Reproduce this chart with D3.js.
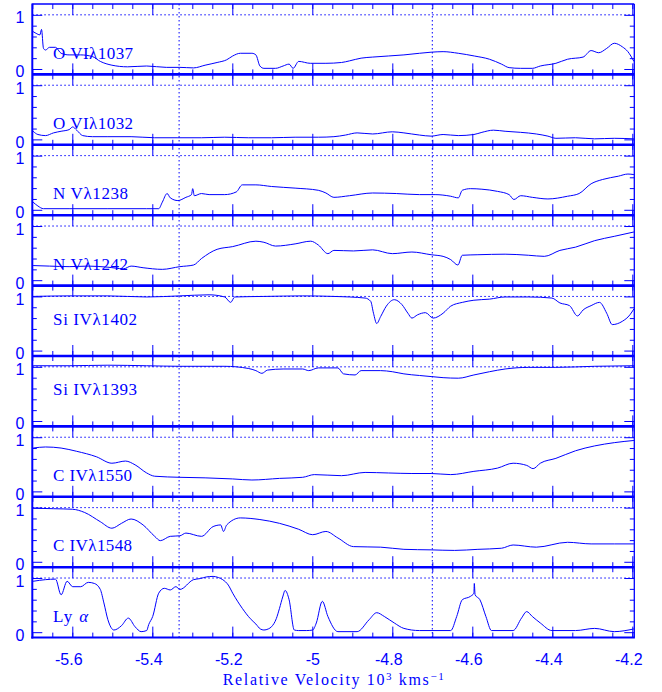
<!DOCTYPE html>
<html>
<head>
<meta charset="utf-8">
<script src="https://cdn.jsdelivr.net/npm/d3@7"></script>
<style>
  body { margin: 0; background: #fff; }
</style>
</head>
<body>
<svg id="chart" width="662" height="692"></svg>
<script>
// ---- data: [relative velocity (10^3 km/s), normalised flux] ----
const oVI1037 = [[-5.698,0.69],[-5.691,0.66],[-5.681,0.63],[-5.677,0.73],[-5.672,0.38],[-5.667,0.35],[-5.657,0.40],[-5.642,0.40],[-5.628,0.29],[-5.608,0.26],[-5.579,0.26],[-5.550,0.23],[-5.530,0.14],[-5.501,0.07],[-5.462,0.04],[-5.414,0.055],[-5.365,0.03],[-5.331,0.03],[-5.297,0.02],[-5.268,0.07],[-5.238,0.12],[-5.214,0.17],[-5.199,0.24],[-5.180,0.29],[-5.151,0.29],[-5.141,0.26],[-5.131,0.055],[-5.121,0.012],[-5.092,0.012],[-5.073,0.055],[-5.058,0.09],[-5.048,0.012],[-5.034,0.14],[-5.005,0.105],[-4.966,0.105],[-4.927,0.12],[-4.907,0.15],[-4.878,0.20],[-4.849,0.22],[-4.810,0.24],[-4.771,0.26],[-4.732,0.29],[-4.703,0.31],[-4.673,0.32],[-4.635,0.29],[-4.595,0.24],[-4.557,0.18],[-4.527,0.09],[-4.508,0.025],[-4.479,0.012],[-4.450,0.012],[-4.430,0.055],[-4.391,0.105],[-4.362,0.18],[-4.323,0.22],[-4.303,0.34],[-4.284,0.30],[-4.264,0.38],[-4.245,0.475],[-4.225,0.41],[-4.211,0.32],[-4.196,0.14]];

const oVI1032 = [[-5.698,0.15],[-5.686,0.09],[-5.667,0.07],[-5.647,0.12],[-5.628,0.15],[-5.608,0.18],[-5.599,0.23],[-5.589,0.17],[-5.574,0.07],[-5.550,0.05],[-5.511,0.05],[-5.453,0.05],[-5.394,0.03],[-5.336,0.03],[-5.277,0.03],[-5.219,0.04],[-5.160,0.03],[-5.102,0.03],[-5.043,0.04],[-4.985,0.04],[-4.946,0.05],[-4.917,0.08],[-4.888,0.12],[-4.849,0.10],[-4.800,0.14],[-4.771,0.12],[-4.732,0.08],[-4.703,0.06],[-4.673,0.09],[-4.635,0.07],[-4.596,0.09],[-4.576,0.13],[-4.547,0.17],[-4.518,0.15],[-4.479,0.13],[-4.440,0.10],[-4.411,0.06],[-4.391,0.02],[-4.342,0.03],[-4.294,0.01],[-4.245,0.02],[-4.196,0.01]];

const nV1238 = [[-5.698,0.14],[-5.686,0.07],[-5.672,0.02],[-5.608,0.02],[-5.511,0.02],[-5.414,0.02],[-5.384,0.02],[-5.375,0.14],[-5.363,0.30],[-5.355,0.22],[-5.336,0.17],[-5.316,0.23],[-5.302,0.28],[-5.299,0.39],[-5.295,0.26],[-5.277,0.30],[-5.258,0.28],[-5.219,0.28],[-5.190,0.33],[-5.175,0.46],[-5.141,0.46],[-5.102,0.43],[-5.043,0.40],[-4.985,0.36],[-4.966,0.31],[-4.946,0.23],[-4.907,0.26],[-4.849,0.31],[-4.790,0.30],[-4.732,0.28],[-4.693,0.28],[-4.654,0.25],[-4.635,0.22],[-4.625,0.36],[-4.605,0.39],[-4.576,0.38],[-4.537,0.34],[-4.508,0.28],[-4.496,0.19],[-4.479,0.26],[-4.450,0.23],[-4.411,0.20],[-4.362,0.25],[-4.333,0.30],[-4.303,0.48],[-4.274,0.56],[-4.235,0.62],[-4.211,0.66],[-4.196,0.65]];

const nV1242 = [[-5.698,0.27],[-5.657,0.26],[-5.608,0.25],[-5.560,0.26],[-5.511,0.24],[-5.472,0.21],[-5.453,0.26],[-5.423,0.23],[-5.375,0.20],[-5.331,0.25],[-5.297,0.28],[-5.277,0.40],[-5.238,0.57],[-5.199,0.62],[-5.141,0.72],[-5.121,0.70],[-5.092,0.63],[-5.043,0.67],[-5.004,0.72],[-4.985,0.65],[-4.961,0.49],[-4.946,0.55],[-4.897,0.54],[-4.849,0.56],[-4.800,0.49],[-4.751,0.52],[-4.703,0.47],[-4.673,0.44],[-4.654,0.38],[-4.636,0.28],[-4.625,0.46],[-4.586,0.47],[-4.518,0.48],[-4.459,0.46],[-4.420,0.44],[-4.381,0.55],[-4.342,0.61],[-4.294,0.73],[-4.245,0.81],[-4.196,0.89]];

const siIV1402 = [[-5.698,1.00],[-5.608,1.01],[-5.511,1.01],[-5.414,0.99],[-5.331,1.01],[-5.258,1.03],[-5.219,0.99],[-5.204,0.89],[-5.194,0.99],[-5.121,1.00],[-5.024,1.01],[-4.946,1.00],[-4.868,0.97],[-4.854,0.91],[-4.847,0.69],[-4.839,0.50],[-4.829,0.63],[-4.815,0.82],[-4.795,0.94],[-4.776,0.85],[-4.761,0.69],[-4.751,0.60],[-4.737,0.66],[-4.717,0.70],[-4.698,0.60],[-4.673,0.69],[-4.654,0.82],[-4.625,0.89],[-4.596,0.93],[-4.557,0.95],[-4.518,0.99],[-4.459,0.99],[-4.401,0.97],[-4.381,0.88],[-4.357,0.83],[-4.337,0.64],[-4.323,0.75],[-4.303,0.83],[-4.282,0.89],[-4.264,0.69],[-4.250,0.48],[-4.225,0.54],[-4.206,0.66],[-4.196,0.77]];

const siIV1393 = [[-5.698,1.02],[-5.608,1.02],[-5.511,1.03],[-5.414,1.02],[-5.331,1.01],[-5.219,1.01],[-5.160,0.97],[-5.141,0.93],[-5.126,0.88],[-5.112,0.94],[-5.073,0.96],[-5.024,0.96],[-5.009,0.93],[-4.985,0.98],[-4.936,0.98],[-4.922,0.87],[-4.893,0.85],[-4.878,0.93],[-4.829,0.93],[-4.800,0.91],[-4.771,0.87],[-4.732,0.84],[-4.703,0.82],[-4.673,0.80],[-4.635,0.79],[-4.596,0.85],[-4.557,0.91],[-4.518,0.96],[-4.459,0.99],[-4.391,0.99],[-4.294,1.01],[-4.196,1.02]];

const cIV1550 = [[-5.698,0.80],[-5.667,0.82],[-5.628,0.80],[-5.589,0.74],[-5.540,0.64],[-5.501,0.52],[-5.467,0.56],[-5.443,0.49],[-5.414,0.34],[-5.394,0.28],[-5.331,0.26],[-5.268,0.25],[-5.199,0.23],[-5.151,0.21],[-5.082,0.24],[-5.024,0.26],[-4.995,0.31],[-4.927,0.29],[-4.868,0.35],[-4.810,0.34],[-4.751,0.33],[-4.703,0.33],[-4.654,0.31],[-4.596,0.37],[-4.537,0.43],[-4.498,0.52],[-4.464,0.48],[-4.448,0.42],[-4.430,0.52],[-4.391,0.61],[-4.342,0.75],[-4.294,0.84],[-4.245,0.90],[-4.196,0.94]];

const cIV1548 = [[-5.698,0.99],[-5.647,0.98],[-5.599,0.97],[-5.569,0.91],[-5.530,0.74],[-5.501,0.62],[-5.477,0.71],[-5.453,0.79],[-5.423,0.68],[-5.394,0.47],[-5.380,0.39],[-5.355,0.47],[-5.331,0.48],[-5.316,0.53],[-5.277,0.47],[-5.248,0.65],[-5.229,0.68],[-5.222,0.56],[-5.214,0.68],[-5.180,0.81],[-5.131,0.78],[-5.082,0.71],[-5.034,0.60],[-4.999,0.50],[-4.966,0.56],[-4.936,0.44],[-4.897,0.28],[-4.829,0.27],[-4.771,0.23],[-4.703,0.22],[-4.644,0.21],[-4.586,0.23],[-4.527,0.25],[-4.498,0.31],[-4.440,0.27],[-4.362,0.36],[-4.303,0.33],[-4.245,0.33],[-4.196,0.33]];

const lyAlpha = [[-5.698,0.94],[-5.667,0.97],[-5.642,0.98],[-5.628,0.69],[-5.613,0.94],[-5.599,0.84],[-5.579,0.84],[-5.560,0.92],[-5.545,0.90],[-5.530,0.79],[-5.521,0.54],[-5.511,0.23],[-5.496,0.04],[-5.477,0.12],[-5.460,0.26],[-5.443,0.10],[-5.428,0.01],[-5.414,0.03],[-5.409,0.14],[-5.399,0.29],[-5.384,0.72],[-5.370,0.81],[-5.355,0.78],[-5.341,0.84],[-5.331,0.79],[-5.297,0.97],[-5.280,0.99],[-5.265,1.02],[-5.248,1.03],[-5.235,1.01],[-5.224,0.97],[-5.210,0.87],[-5.199,0.72],[-5.175,0.44],[-5.155,0.25],[-5.141,0.15],[-5.130,0.06],[-5.121,0.04],[-5.110,0.06],[-5.102,0.10],[-5.090,0.25],[-5.082,0.44],[-5.074,0.65],[-5.068,0.77],[-5.058,0.60],[-5.045,0.04],[-5.034,0.03],[-5.014,0.03],[-4.999,0.04],[-4.990,0.17],[-4.975,0.57],[-4.961,0.29],[-4.936,0.01],[-4.888,0.01],[-4.858,0.23],[-4.839,0.36],[-4.820,0.29],[-4.795,0.17],[-4.771,0.07],[-4.732,0.03],[-4.654,0.03],[-4.639,0.29],[-4.625,0.60],[-4.605,0.66],[-4.596,0.72],[-4.595,0.90],[-4.593,0.69],[-4.581,0.60],[-4.566,0.29],[-4.552,0.03],[-4.498,0.03],[-4.477,0.26],[-4.464,0.38],[-4.450,0.29],[-4.430,0.17],[-4.401,0.03],[-4.342,0.03],[-4.294,0.07],[-4.245,0.01],[-4.196,0.06]];

const series = [oVI1037, oVI1032, nV1238, nV1242, siIV1402, siIV1393, cIV1550, cIV1548, lyAlpha];
const lineNames = ["O VI\u03bb1037", "O VI\u03bb1032", "N V\u03bb1238", "N V\u03bb1242", "Si IV\u03bb1402", "Si IV\u03bb1393", "C IV\u03bb1550", "C IV\u03bb1548", "Ly \u03b1"];
const xTicks = [-5.6, -5.4, -5.2, -5, -4.8, -4.6, -4.4, -4.2];
const xMinor = d3.range(0, 31).map(i => +(-5.7 + i * 0.05).toFixed(2));
const yTicks = [0, 1];
const yMinor = [0.2, 0.4, 0.6, 0.8];
const markVel = [-5.333, -4.70];   // the two dotted velocity markers

// ---- layout ----
const plotL = 32.3, plotR = 634.3, plotT = 4, ph = 70.4;
const blue = "#0000ff";
const labelAt = [0.19, 0.19, 0.19, 0.19, 0.48, 0.48, 0.19, 0.19, 0.19]; // label baseline (flux units)
const labelW = [80, 80, 75, 75, 84, 84, 79, 79, 35];
const plotB = plotT + ph * series.length;

const svg = d3.select("#chart");
const x = d3.scaleLinear().domain([-5.7, -4.195]).range([plotL, plotR]);
const line = d3.line().curve(d3.curveMonotoneX);

function styleAxis(g) {
    g.select(".domain").remove();
    g.selectAll(".tick line").attr("stroke", blue).attr("stroke-width", 1);
}

series.forEach((data, i) => {
    const y = d3.scaleLinear().domain([-0.1, 1.2]).range([plotT + (i + 1) * ph, plotT + i * ph]);
    const g = svg.append("g");

    // continuum level
    g.append("line")
        .attr("x1", plotL).attr("x2", plotR)
        .attr("y1", y(1)).attr("y2", y(1))
        .attr("stroke", blue).attr("stroke-width", 1)
        .attr("stroke-dasharray", "1.5,2.5");

    // x ticks at the top and bottom of each panel, pointing inwards
    [[d3.axisBottom, y.range()[0]], [d3.axisTop, y.range()[1]]].forEach(([ax, ty]) => {
        g.append("g").attr("transform", `translate(0,${ty})`)
            .call(ax(x).tickValues(xMinor).tickSize(-5).tickFormat(""))
            .call(styleAxis);
        g.append("g").attr("transform", `translate(0,${ty})`)
            .call(ax(x).tickValues(xTicks).tickSize(-11).tickFormat(""))
            .call(styleAxis);
    });

    // y ticks left and right
    [[d3.axisLeft, plotL], [d3.axisRight, plotR]].forEach(([ax, tx]) => {
        g.append("g").attr("transform", `translate(${tx},0)`)
            .call(ax(y).tickValues(yMinor).tickSize(-4.5).tickFormat(""))
            .call(styleAxis);
    });
    g.append("g").attr("transform", `translate(${plotR},0)`)
        .call(d3.axisRight(y).tickValues(yTicks).tickSize(-10).tickFormat(""))
        .call(styleAxis);
    const yl = g.append("g").attr("transform", `translate(${plotL},0)`)
        .call(d3.axisLeft(y).tickValues(yTicks).tickSize(-10).tickPadding(7.8).tickFormat(d3.format("d")))
        .call(styleAxis);
    yl.selectAll("text")
        .attr("fill", blue).attr("dy", 8)
        .attr("font-family", "'Liberation Sans', Arial, sans-serif")
        .attr("font-size", 16);

    // spectrum
    g.append("path")
        .attr("d", line(data.map(d => [x(d[0]), y(d[1])])))
        .attr("fill", "none")
        .attr("stroke", blue)
        .attr("stroke-width", 1)
        .attr("stroke-linejoin", "round");

    // ion label
    const t = g.append("text")
        .attr("x", x(-5.648)).attr("y", y(labelAt[i]))
        .attr("fill", blue)
        .attr("font-family", "'Liberation Serif', 'DejaVu Serif', serif")
        .attr("font-size", 17)
        .attr("textLength", labelW[i])
        .attr("lengthAdjust", "spacing");
    if (i === series.length - 1) {
        t.append("tspan").text("Ly ");
        t.append("tspan").attr("font-style", "italic").text("\u03b1");
    } else {
        t.text(lineNames[i]);
    }
});

// dotted velocity markers through all panels
svg.selectAll(".mark").data(markVel).join("line")
    .attr("x1", d => x(d)).attr("x2", d => x(d))
    .attr("y1", plotT).attr("y2", plotB)
    .attr("stroke", blue).attr("stroke-width", 1)
    .attr("stroke-dasharray", "1.5,2.5");

// frame
const frame = svg.append("g").attr("stroke", blue);
frame.append("line").attr("x1", plotL).attr("x2", plotR).attr("y1", plotT).attr("y2", plotT).attr("stroke-width", 1.3);
frame.append("line").attr("x1", plotR).attr("x2", plotR).attr("y1", plotT).attr("y2", plotB).attr("stroke-width", 1.3);
frame.append("line").attr("x1", plotL).attr("x2", plotL).attr("y1", plotT - 0.6).attr("y2", plotB + 1).attr("stroke-width", 2);
frame.append("line").attr("x1", plotL - 1).attr("x2", plotR + 0.6).attr("y1", plotB).attr("y2", plotB).attr("stroke-width", 2);
d3.range(1, series.length).forEach(k => {
    frame.append("line")
        .attr("x1", plotL).attr("x2", plotR)
        .attr("y1", plotT + k * ph).attr("y2", plotT + k * ph)
        .attr("stroke-width", 2.6);
});

// bottom tick labels
const xl = svg.append("g").attr("transform", `translate(0,${plotB})`)
    .call(d3.axisBottom(x).tickValues(xTicks).tickSize(0).tickPadding(16)
        .tickFormat(d => String(+d.toFixed(1))))
    .call(styleAxis);
xl.selectAll("text")
    .attr("fill", blue)
    .attr("dx", d => Number.isInteger(d) ? 0 : -4)
    .attr("font-family", "'Liberation Sans', Arial, sans-serif")
    .attr("font-size", 16);

// axis title
const title = svg.append("text")
    .attr("x", (plotL + plotR) / 2).attr("y", 685)
    .attr("text-anchor", "middle")
    .attr("fill", blue)
    .attr("font-family", "'Liberation Serif', 'DejaVu Serif', serif")
    .attr("font-size", 16)
    .attr("textLength", 221)
    .attr("lengthAdjust", "spacing");
title.append("tspan").text("Relative Velocity 10");
title.append("tspan").attr("font-size", 11).attr("dy", -5).text("3");
title.append("tspan").attr("dy", 5).text(" kms");
title.append("tspan").attr("font-size", 11).attr("dy", -5).text("\u22121");
</script>
</body>
</html>
